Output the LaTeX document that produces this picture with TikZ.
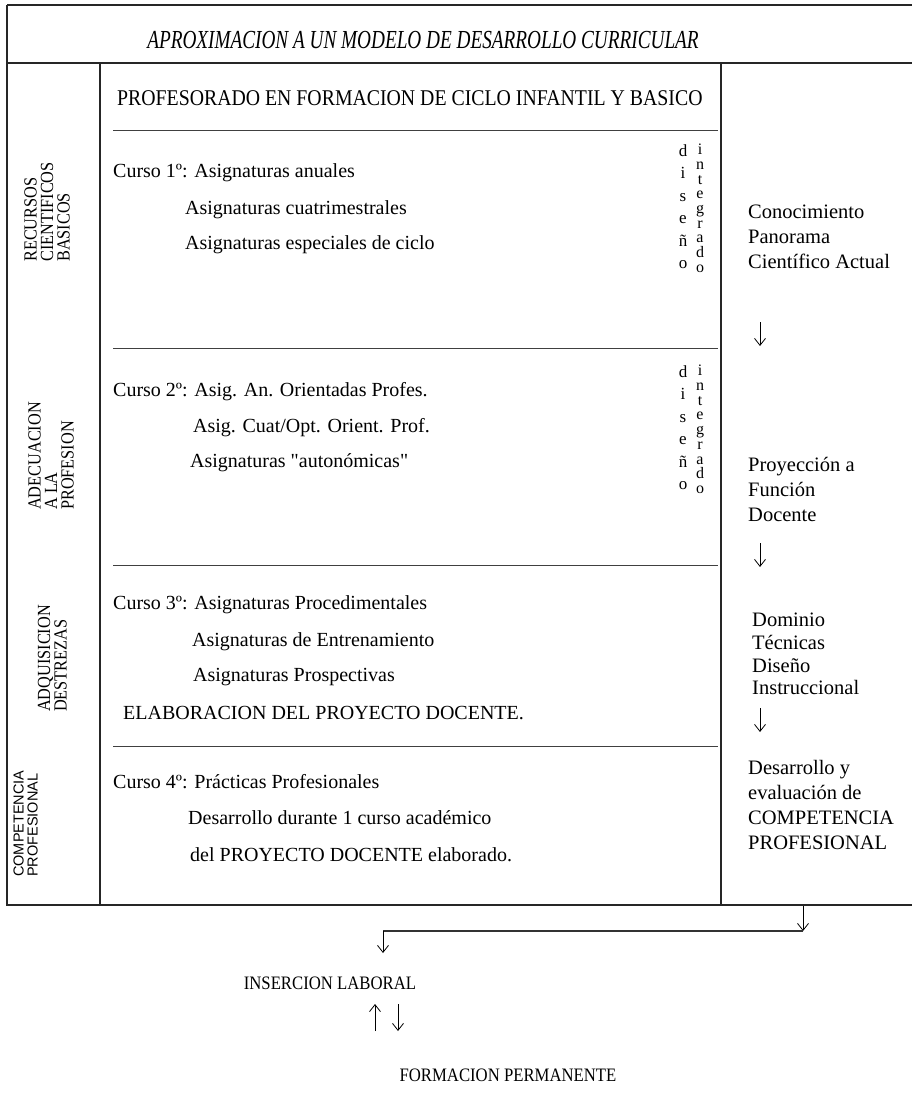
\documentclass[tikz,border=0pt]{standalone}
\usepackage{fontspec}
\setmainfont{Liberation Serif}
\newfontfamily\narrowfont[FakeStretch=0.88]{Liberation Serif}
\newfontfamily\titlefont[FakeStretch=0.74]{Liberation Serif}
\newfontfamily\labelsans{Liberation Sans}
\usetikzlibrary{arrows.meta,positioning}

\tikzset{
  frame/.style={line width=1.8pt, black!85},
  rule/.style={line width=0.7pt, black!75},
  arr/.style={-{Straight Barb[length=7pt,width=11pt]}, line width=0.8pt},
  body/.style={anchor=west, inner sep=0pt, font=\fontsize{20}{24}\selectfont},
  side/.style={anchor=north west, align=left, inner sep=0pt, font=\fontsize{20.5}{25}\selectfont},
  vlabel/.style={rotate=90, anchor=south west, align=left, inner sep=0pt, font=\narrowfont\fontsize{18.5}{16.5}\selectfont},
  stack/.style={anchor=north, align=center, inner sep=0pt},
}

\begin{document}
\begin{tikzpicture}[x=1pt,y=-1pt]
	\useasboundingbox (0,0) rectangle (912,1106);

	% outer frame and columns
	\draw[frame] (7,5) -- (912,5);
	\draw[frame] (7,5) -- (7,905) -- (912,905);
	\draw[frame] (7,63) -- (912,63);
	\draw[frame] (100,63) -- (100,905);
	\draw[frame] (721,63) -- (721,905);

	\node[font=\titlefont\itshape\fontsize{26}{30}\selectfont] (title) at (423,40) {APROXIMACION A UN MODELO DE DESARROLLO CURRICULAR};
	\node[anchor=west, inner sep=0pt, font=\narrowfont\fontsize{22.5}{26}\selectfont] (prof) at (117,98) {PROFESORADO EN FORMACION DE CICLO INFANTIL Y BASICO};

	% separators of the middle column
	\draw[rule] (113,130) -- (718,130);
	\draw[rule] (113,348) -- (718,348);
	\draw[rule] (113,565) -- (718,565);
	\draw[rule] (113,746) -- (718,746);

	% left column
	\node[vlabel] (lab1) at (70,262) {RECURSOS\\CIENTIFICOS\\BASICOS};
	\node[vlabel] (lab2) at (74,510) {ADECUACION\\A LA\\PROFESION};
	\node[vlabel] (lab3) at (67,712) {ADQUISICION\\DESTREZAS};
	\node[vlabel, font=\labelsans\fontsize{14.5}{14}\selectfont] (lab4) at (38,877) {COMPETENCIA\\PROFESIONAL};

	% curso 1
	\node[body] (c1a) at (113,173) {Curso 1º: Asignaturas anuales};
	\node[body] (c1b) at (185,210) {Asignaturas cuatrimestrales};
	\node[body] (c1c) at (185,245) {Asignaturas especiales de ciclo};
	\node[stack, font=\fontsize{17}{22.5}\selectfont] (dis1) at (683,144) {d\\i\\s\\e\\ñ\\o};
	\node[stack, font=\fontsize{16}{14.7}\selectfont] (int1) at (700,144) {i\\n\\t\\e\\g\\r\\a\\d\\o};

	% curso 2
	\node[body] (c2a) at (113,392) {Curso 2º: Asig. An. Orientadas Profes.};
	\node[body] (c2b) at (193,428) {Asig. Cuat/Opt. Orient. Prof.};
	\node[body] (c2c) at (190,463) {Asignaturas \textquotedbl autonómicas\textquotedbl};
	\node[stack, font=\fontsize{17}{22.5}\selectfont] (dis2) at (683,365) {d\\i\\s\\e\\ñ\\o};
	\node[stack, font=\fontsize{16}{14.7}\selectfont] (int2) at (700,365) {i\\n\\t\\e\\g\\r\\a\\d\\o};

	% curso 3
	\node[body] (c3a) at (113,605) {Curso 3º: Asignaturas Procedimentales};
	\node[body] (c3b) at (192,642) {Asignaturas de Entrenamiento};
	\node[body] (c3c) at (193,677) {Asignaturas Prospectivas};
	\node[body] (c3d) at (123,713) {ELABORACION DEL PROYECTO DOCENTE.};

	% curso 4
	\node[body] (c4a) at (113,782) {Curso 4º: Prácticas Profesionales};
	\node[body] (c4b) at (188,818) {Desarrollo durante 1 curso académico};
	\node[body] (c4c) at (190,855) {del PROYECTO DOCENTE elaborado.};

	% right column
	\node[side] (goal1) at (748,205) {Conocimiento\\Panorama\\Científico Actual};
	\node[side] (goal2) at (748,457) {Proyección a\\Función\\Docente};
	\node[side, font=\fontsize{20.5}{22.7}\selectfont] (goal3) at (752,613) {Dominio\\Técnicas\\Diseño\\Instruccional};
	\node[side] (goal4) at (748,760) {Desarrollo y\\evaluación de\\COMPETENCIA\\PROFESIONAL};

	\coordinate (g1s) at (760,322);
	\coordinate (g1e) at (760,346);
	\coordinate (g2s) at (760,543);
	\coordinate (g2e) at (760,567);
	\coordinate (g3s) at (760,708);
	\coordinate (g3e) at (760,732);
	\draw[arr] (g1s) -- (g1e);
	\draw[arr] (g2s) -- (g2e);
	\draw[arr] (g3s) -- (g3e);

	% exit of the model
	\coordinate (out1) at (803,906);
	\coordinate (out2) at (803,931);
	\coordinate (out3) at (383,931);
	\coordinate (out4) at (383,953);
	\draw[arr] (out1) -- (out2);
	\draw[line width=1.6pt, black!80] (out2) -- (out3);
	\draw[arr] (out3) -- (out4);

	\node[font=\narrowfont\fontsize{19}{21}\selectfont] (insercion) at (330,983) {INSERCION LABORAL};
	\node[font=\narrowfont\fontsize{19}{21}\selectfont] (formacion) at (508,1075) {FORMACION PERMANENTE};

	\coordinate (up1) at (375,1031);
	\coordinate (up2) at (375,1004);
	\coordinate (dn1) at (398,1004);
	\coordinate (dn2) at (398,1031);
	\draw[arr] (up1) -- (up2);
	\draw[arr] (dn1) -- (dn2);
\end{tikzpicture}
\end{document}
